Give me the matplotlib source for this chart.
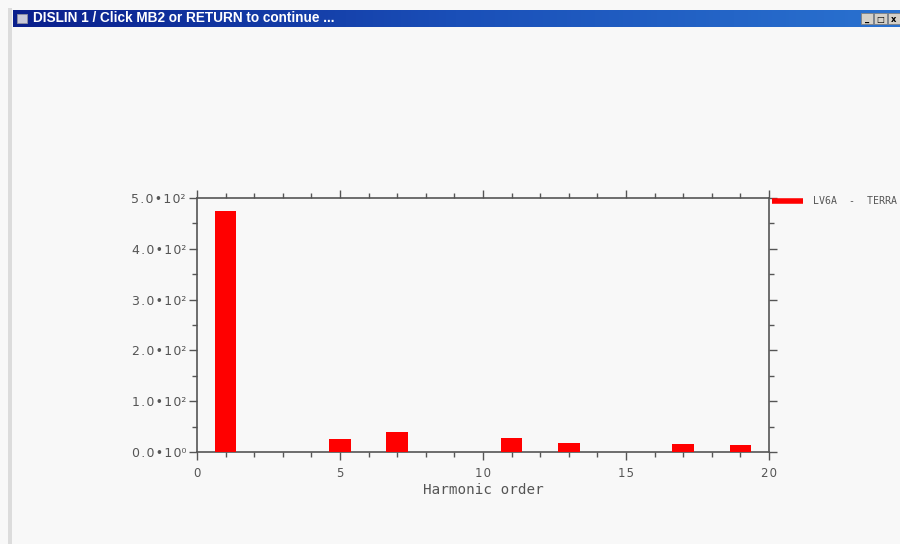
import numpy as np
import matplotlib.pyplot as plt
from matplotlib.lines import Line2D
from matplotlib.patches import Rectangle
from matplotlib.colors import LinearSegmentedColormap

# harmonic spectrum
harmonics = [1, 5, 7, 11, 13, 17, 19]
amplitude = [474, 25.5, 39, 27.5, 17.5, 15, 13]
series_name = "LV6A  -  TERRA"
x_label = "Harmonic order"
window_title = "DISLIN 1 / Click MB2 or RETURN to continue ..."
y_ticks = [0, 100, 200, 300, 400, 500]
y_mantissa = ["0.0", "1.0", "2.0", "3.0", "4.0", "5.0"]
y_exponent = ["\u2070", "\u00b2", "\u00b2", "\u00b2", "\u00b2", "\u00b2"]
x_ticks = [0, 5, 10, 15, 20]

bg = "#f8f8f8"
axis_col = "#555555"
mono = "DejaVu Sans Mono"
hair = "\u200a"


def y_label(m, e):
    # DISLIN style "5.0*10^2" with loose letter spacing
    return hair.join(m) + hair + "\u2022" + hair + "1" + hair + "0" + e


W, H = 900, 544
fig = plt.figure(figsize=(W / 100, H / 100), dpi=100, facecolor=bg)

# window frame: left border and title bar
fig.add_artist(Rectangle((8 / W, 0), 4 / W, 1 - 8 / H, transform=fig.transFigure,
                         facecolor="#dcdcdc", edgecolor="none"))
tb = fig.add_axes([13 / W, 1 - 27 / H, (W - 13) / W, 17 / H])
grad = np.linspace(0, 1, 256).reshape(1, -1)
cm = LinearSegmentedColormap.from_list("tb", ["#0a1f8c", "#1a4fb8", "#2a72d0"])
tb.imshow(grad, aspect="auto", cmap=cm, extent=(0, 1, 0, 1))
tb.set_axis_off()
tb.add_patch(Rectangle((0.004, 0.25), 0.012, 0.5, facecolor="#c8c8d8", edgecolor="#9090a0", lw=0.6))
tb.text(0.022, 0.5, window_title, color="white", fontsize=9.8, fontweight="bold",
        va="center", ha="left", family="Liberation Sans")
for i, xb in enumerate([0.963, 0.978, 0.993]):
    tb.add_patch(Rectangle((xb - 0.007, 0.2), 0.014, 0.6, facecolor="#d4d0c8",
                           edgecolor="#808080", lw=0.6, clip_on=False))
    tb.text(xb, 0.47, ["_", "\u25a1", "x"][i], fontsize=6, ha="center", va="center",
            color="black", fontweight="bold")

# main plot
ax = fig.add_axes([197 / W, 1 - 452 / H, 572 / W, 254 / H], facecolor=bg)
ax.bar(harmonics, amplitude, width=0.75, color="#ff0000", edgecolor="none", zorder=3)
ax.set_xlim(0, 20)
ax.set_ylim(0, 500)

for s in ax.spines.values():
    s.set_color(axis_col)
    s.set_linewidth(1.2)

ax.set_xticks(x_ticks)
ax.set_xticklabels([hair.join(str(v)) for v in x_ticks])
ax.set_xticks(np.arange(0, 21, 1), minor=True)
ax.set_yticks(y_ticks)
ax.set_yticklabels([y_label(m, e) for m, e in zip(y_mantissa, y_exponent)])
ax.set_yticks(np.arange(0, 501, 50), minor=True)
ax.tick_params(which="both", direction="out", color=axis_col, width=1.0,
               top=True, right=True, labelcolor=axis_col)
ax.tick_params(which="major", length=6, pad=2)
ax.tick_params(axis="x", which="major", pad=5)
ax.tick_params(which="minor", length=3.5)
for lab in ax.get_xticklabels() + ax.get_yticklabels():
    lab.set_family("DejaVu Sans")
    lab.set_fontsize(8.5)
for lab in ax.get_yticklabels():
    lab.set_fontsize(9)

ax.set_xlabel(x_label, family=mono, fontsize=10.3, color=axis_col, labelpad=2)

# legend drawn beside the right axis
fig.add_artist(Line2D([772 / W, 803 / W], [1 - 201 / H] * 2, color="#ff0000", lw=4,
                      solid_capstyle="butt", transform=fig.transFigure))
fig.text(813 / W, 1 - 201 / H, series_name, family=mono, fontsize=7.1,
         color=axis_col, va="center", ha="left")

fig.savefig("out.png", dpi=100, facecolor=bg)
